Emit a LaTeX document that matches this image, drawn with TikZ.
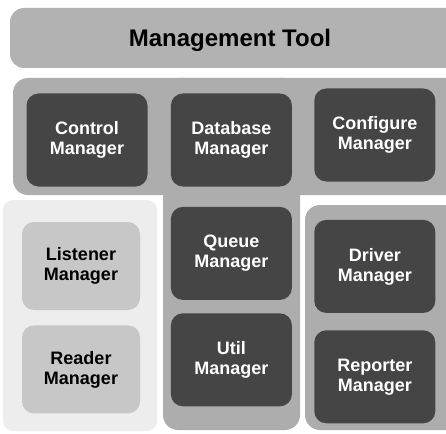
\documentclass[tikz,border=0pt]{standalone}
\usepackage{fontspec}
\setmainfont{Liberation Sans}
\usetikzlibrary{positioning}

\definecolor{bannergray}{gray}{0.70}
\definecolor{groupgray}{gray}{0.68}
\definecolor{leftgray}{gray}{0.93}
\definecolor{mgrdark}{gray}{0.27}
\definecolor{mgrlight}{gray}{0.78}

\begin{document}
\begin{tikzpicture}[
  x=1pt, y=-1pt,
  mgr/.style = {rounded corners=12pt, minimum width=121pt, minimum height=93pt, align=center,
                fill=mgrdark, text=white, font=\fontsize{18}{20}\selectfont\bfseries},
  lightmgr/.style = {mgr, fill=mgrlight, text=black, minimum width=118pt, minimum height=88pt},
  group/.style = {fill=groupgray, rounded corners=15pt},
  node distance=20pt and 23pt
]
  \clip (0,0) rectangle (446,433);

  % Backgrounds
  \fill[bannergray, rounded corners=14pt] (10,8) rectangle (470,68);
  \fill[group] (13,78) rectangle (470,195);
  \fill[group] (163,78) rectangle (300,430);
  \fill[group] (305,205) rectangle (470,430);
  \fill[leftgray, rounded corners=10pt] (3,200) rectangle (157,431);

  % Title
  \node[font=\fontsize{24}{28}\selectfont\bfseries] (title) at (230,40) {Management Tool};

  % Top row
  \node[mgr] (ctrl) at (87,140) {Control\\Manager};
  \node[mgr, right=23pt of ctrl] (db) {Database\\Manager};
  \node[mgr, right=22pt of db, yshift=5pt] (cfg) {Configure\\Manager};

  % Middle column
  \node[mgr, below=20pt of db] (queue) {Queue\\Manager};
  \node[mgr, below=13pt of queue] (util) {Util\\Manager};

  % Right column
  \node[mgr, below=38pt of cfg] (drv) {Driver\\Manager};
  \node[mgr, below=17pt of drv] (rep) {Reporter\\Manager};

  % Left column
  \node[lightmgr] (lst) at (81,266) {Listener\\Manager};
  \node[lightmgr, below=15pt of lst] (rdr) {Reader\\Manager};

\end{tikzpicture}
\end{document}
